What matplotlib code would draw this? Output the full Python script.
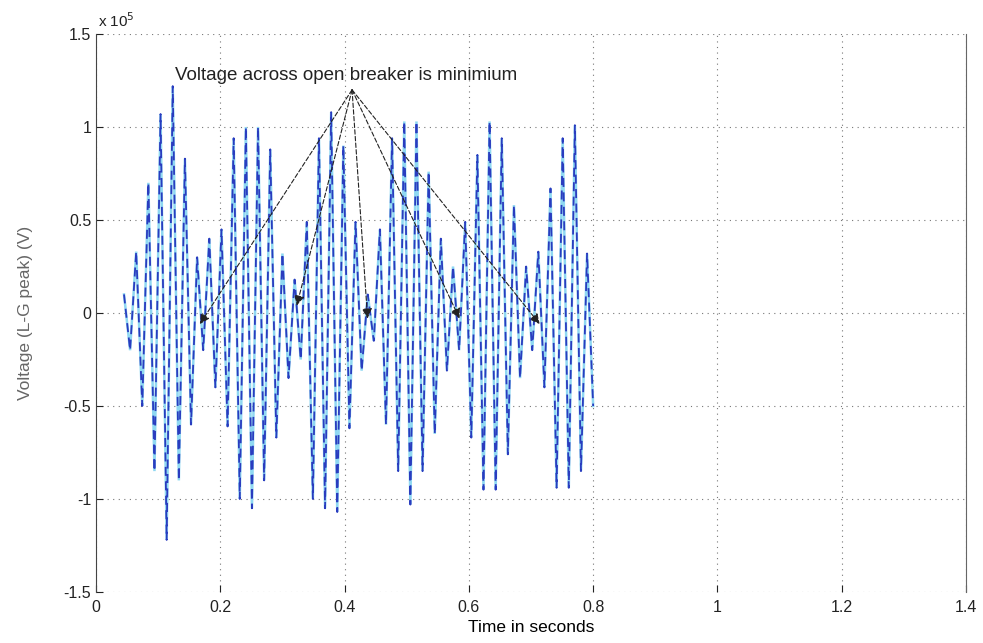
import matplotlib
matplotlib.use("Agg")
import matplotlib.pyplot as plt
import numpy as np
from matplotlib.ticker import FuncFormatter

# peak values of each cycle, in units of 1e5 V
pos_peaks = [0.10, 0.33, 0.70, 1.07, 1.22, 0.83, 0.30, 0.40, 0.45, 0.94,
             1.00, 1.00, 0.88, 0.32, 0.18, 0.49, 0.94, 1.08, 0.90, 0.49,
             0.10, 0.45, 0.94, 1.03, 1.03, 0.76, 0.40, 0.25, 0.49, 0.85,
             1.03, 0.94, 0.58, 0.25, 0.33, 0.67, 0.94, 1.01, 0.32]
neg_peaks = [-0.20, -0.50, -0.85, -1.22, -0.90, -0.60, -0.20, -0.40, -0.61, -1.00,
             -1.05, -0.90, -0.67, -0.35, -0.25, -1.00, -1.05, -1.07, -0.62, -0.31,
             -0.15, -0.60, -0.85, -1.03, -0.85, -0.65, -0.31, -0.20, -0.67, -0.95,
             -0.95, -0.76, -0.35, -0.20, -0.40, -0.94, -0.94, -0.85, -0.50]
t_first, t_last = 0.045, 0.80

# annotation: apex of the arrows and the points they mark
note_text = "Voltage across open breaker is minimium"
apex = (0.412, 1.20)
arrow_t = [0.167, 0.323, 0.437, 0.585, 0.714]
arrow_v = [-0.06, 0.04, -0.03, -0.03, -0.06]

volts = np.empty(2 * len(pos_peaks))
volts[0::2] = pos_peaks
volts[1::2] = neg_peaks
t = np.linspace(t_first, t_last, len(volts))

plt.rcParams['font.family'] = ['Liberation Sans', 'DejaVu Sans']

fig = plt.figure(figsize=(9.83, 6.43), dpi=100)
ax = fig.add_axes([0.0977, 0.0793, 0.885, 0.8678])

ax.plot(t, volts, color='#8fd8f2', lw=1.8, solid_joinstyle='miter')
ax.plot(t, volts, color='#2a3cbf', lw=1.3, dashes=(5, 3))

ax.set_xlim(0, 1.4)
ax.set_ylim(-1.5, 1.5)
ax.set_xticks(np.arange(0, 1.41, 0.2))
ax.set_yticks(np.arange(-1.5, 1.51, 0.5))
fmt = FuncFormatter(lambda v, p: '%g' % round(v, 2))
ax.xaxis.set_major_formatter(fmt)
ax.yaxis.set_major_formatter(fmt)
ax.tick_params(direction='in', length=5, labelsize=11.5, colors='#222222')
ax.tick_params(axis='x', pad=6)
ax.grid(True, linestyle=(0, (1, 4)), color='#777777', lw=0.8)

ax.spines['top'].set_visible(False)
ax.spines['bottom'].set_visible(False)
ax.spines['left'].set_color('#444444')
ax.spines['right'].set_color('#666666')

ax.text(0.002, 1.008, r'x 10$^5$', transform=ax.transAxes, fontsize=11,
        ha='left', va='bottom', color='#222222')

ax.set_xlabel('Time in seconds', fontsize=12.5, labelpad=3)
ax.set_ylabel('Voltage (L-G peak) (V)', fontsize=12.5, color='#666666', labelpad=22)

ax.text(apex[0] - 0.01, apex[1] + 0.03, note_text, fontsize=13.5,
        ha='center', va='bottom', color='#222222')
for at, av in zip(arrow_t, arrow_v):
    ax.annotate('', xy=(at, av), xytext=apex,
                arrowprops=dict(arrowstyle='-|>', color='#222222', lw=0.8,
                                linestyle=(0, (4, 2)), mutation_scale=15,
                                shrinkA=0, shrinkB=0))

fig.savefig('out.png', dpi=100)
